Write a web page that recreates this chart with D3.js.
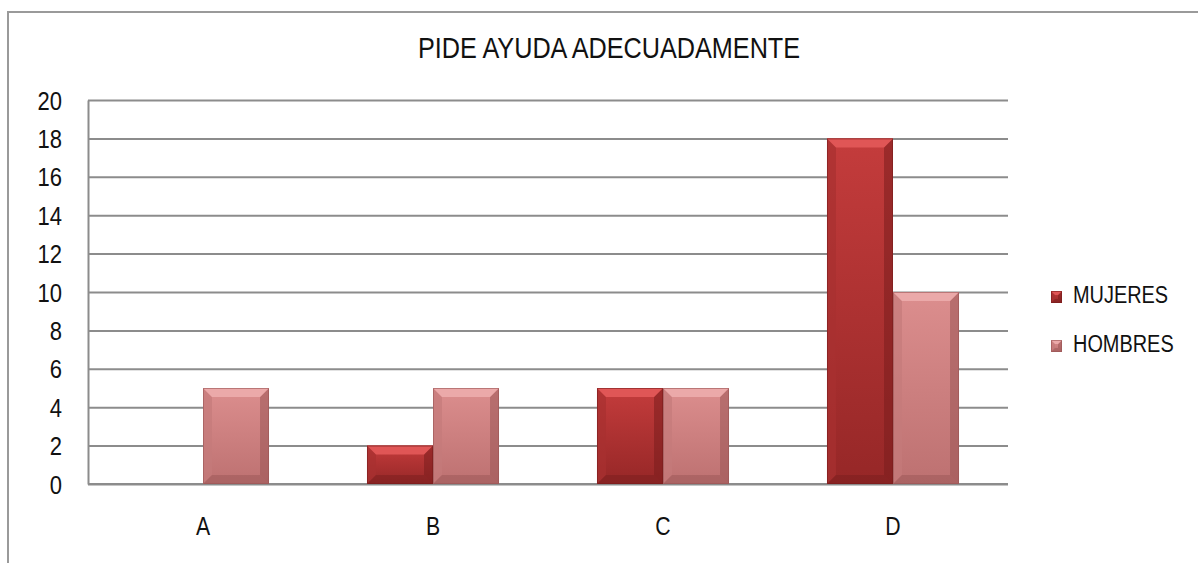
<!DOCTYPE html>
<html>
<head>
<meta charset="utf-8">
<script src="https://cdn.jsdelivr.net/npm/d3@7"></script>
<style>
  body { margin: 0; background: #fff; }
  text { font-family: "Liberation Sans", Arial, sans-serif; fill: #111; }
</style>
</head>
<body>
<div id="chart"></div>
<script>
// data
var categories = ["A", "B", "C", "D"];
var series = ["MUJERES", "HOMBRES"];
var mujeres = [0, 2, 5, 18];
var hombres = [5, 5, 5, 10];
var yTicks = [0, 2, 4, 6, 8, 10, 12, 14, 16, 18, 20];

var w = 1198, h = 563;
var plot = {left: 88, right: 1008, top: 100, bottom: 484};
var gridGray = "#8c8c8c";

var svg = d3.select("#chart").append("svg")
  .attr("width", w)
  .attr("height", h);

var defs = svg.append("defs");
// colour sets for the two series: top / bottom of gradient, bevel light, bevel dark
var pal = {
  MUJERES: {top: "#c43c3c", bot: "#962727", light: "#e05656", dark: "#7a1d1d", side: "#a83030"},
  HOMBRES: {top: "#dc8e8e", bot: "#bd7171", light: "#eba9a9", dark: "#9a5555", side: "#c47a7a"}
};
series.forEach(function(s) {
  var g = defs.append("linearGradient").attr("id", "grad" + s)
    .attr("x1", 0).attr("y1", 0).attr("x2", 0).attr("y2", 1);
  g.append("stop").attr("offset", "0%").attr("stop-color", pal[s].top);
  g.append("stop").attr("offset", "100%").attr("stop-color", pal[s].bot);
});

// narrow looking text: squeeze horizontally (no narrow font installed)
function narrowText(sel, x, y, size, sx) {
  return sel.attr("transform", "translate(" + x + "," + y + ") scale(" + sx + ",1)")
    .attr("x", 0).attr("y", 0)
    .attr("font-size", size);
}

// outer frame
svg.append("path")
  .attr("d", "M8," + h + " L8,12 L" + w + ",12")
  .attr("fill", "none")
  .attr("stroke", "#9a9a9a")
  .attr("stroke-width", 2);

var x0 = d3.scaleBand()
  .domain(categories)
  .range([plot.left, plot.right])
  .paddingInner(0.426)
  .paddingOuter(0.213);
var x1 = d3.scaleBand()
  .domain(series)
  .range([0, x0.bandwidth()]);
var y = d3.scaleLinear()
  .domain([0, 20])
  .range([plot.bottom, plot.top]);

// gridlines
svg.append("g")
  .attr("class", "grid")
  .attr("transform", "translate(" + plot.left + ",0)")
  .call(d3.axisLeft(y).tickValues(yTicks).tickSize(plot.left - plot.right).tickFormat(""))
  .call(function(g) {
    g.select(".domain").remove();
    g.selectAll("line").attr("stroke", gridGray).attr("stroke-width", 2);
  });

// y axis
svg.append("g")
  .attr("transform", "translate(" + plot.left + ",0)")
  .call(d3.axisLeft(y).tickValues(yTicks).tickSize(0))
  .call(function(g) {
    g.select(".domain").attr("stroke", gridGray).attr("stroke-width", 2);
    g.selectAll("text").attr("fill", "#111").attr("dy", null)
      .each(function() { narrowText(d3.select(this), -26, 9, 25, 0.88); });
  });

// x axis
svg.append("g")
  .attr("transform", "translate(0," + plot.bottom + ")")
  .call(d3.axisBottom(x0).tickSize(0))
  .call(function(g) {
    g.select(".domain").attr("stroke", gridGray).attr("stroke-width", 2)
      .attr("d", "M" + plot.left + ",0H" + plot.right);
    g.selectAll("text").attr("fill", "#111").attr("dy", null)
      .each(function() { narrowText(d3.select(this), 0, 51, 25, 0.85); });
  });

var rows = categories.map(function(c, i) {
  return {cat: c, MUJERES: mujeres[i], HOMBRES: hombres[i]};
});

// bevelled bar
function bevelBar(g, s, bx, by, bw, bh, bev) {
  if (bh <= 0) return;
  var p = pal[s];
  var b = Math.min(bev, bh / 2, bw / 2);
  g.append("rect").attr("x", bx).attr("y", by).attr("width", bw).attr("height", bh)
    .attr("fill", "url(#grad" + s + ")");
  // sides
  g.append("polygon").attr("fill", p.side).attr("opacity", 0.7)
    .attr("points", [[bx, by], [bx + b, by + b], [bx + b, by + bh - b], [bx, by + bh]].join(" "));
  g.append("polygon").attr("fill", p.dark).attr("opacity", 0.55)
    .attr("points", [[bx + bw, by], [bx + bw - b, by + b], [bx + bw - b, by + bh - b], [bx + bw, by + bh]].join(" "));
  // top light bevel
  g.append("polygon").attr("fill", p.light)
    .attr("points", [[bx, by], [bx + bw, by], [bx + bw - b, by + b], [bx + b, by + b]].join(" "));
  // bottom dark bevel
  g.append("polygon").attr("fill", p.dark).attr("opacity", 0.5)
    .attr("points", [[bx, by + bh], [bx + bw, by + bh], [bx + bw - b, by + bh - b], [bx + b, by + bh - b]].join(" "));
  g.append("rect").attr("x", bx + 0.5).attr("y", by + 0.5).attr("width", bw - 1).attr("height", bh - 1)
    .attr("fill", "none").attr("stroke", p.dark).attr("stroke-opacity", 0.6);
}

var bars = svg.append("g");
rows.forEach(function(d) {
  series.forEach(function(s) {
    var bx = x0(d.cat) + x1(s);
    var by = y(d[s]);
    bevelBar(bars, s, bx, by, x1.bandwidth(), y(0) - by, 9);
  });
});

// title
narrowText(svg.append("text"), 609, 58, 29, 0.87)
  .attr("text-anchor", "middle")
  .text("PIDE AYUDA ADECUADAMENTE");

// legend
var legend = svg.append("g").attr("transform", "translate(1051,291)");
series.forEach(function(s, i) {
  var lg = legend.append("g").attr("transform", "translate(0," + (i * 49) + ")");
  bevelBar(lg, s, 0, 0, 11, 12, 4);
  narrowText(lg.append("text"), 22, 12, 24, 0.83)
    .text(s);
});
</script>
</body>
</html>
